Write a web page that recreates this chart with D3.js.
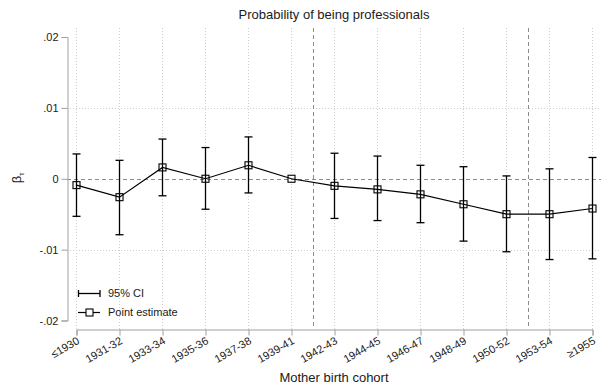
<!DOCTYPE html>
<html>
<head>
<meta charset="utf-8">
<script src="https://cdn.jsdelivr.net/npm/d3@7"></script>
<style>
  html, body { margin: 0; padding: 0; background: #fff; }
  svg { display: block; font-family: "Liberation Sans", Arial, sans-serif; }
</style>
</head>
<body>
<svg id="chart" width="604" height="388"></svg>
<script>
// Mother birth cohorts and the estimated coefficients with 95% confidence bounds
const cohorts = ["≤1930", "1931-32", "1933-34", "1935-36", "1937-38", "1939-41",
                 "1942-43", "1944-45", "1946-47", "1948-49", "1950-52", "1953-54", "≥1955"];
const estimate = [-0.0009, -0.0026, 0.0016, 0.0000, 0.0019, 0.0000,
                  -0.0010, -0.0015, -0.0022, -0.0036, -0.0050, -0.0050, -0.0042];
const ciLower  = [-0.0053, -0.0079, -0.0024, -0.0043, -0.0020, null,
                  -0.0056, -0.0059, -0.0062, -0.0088, -0.0103, -0.0114, -0.0113];
const ciUpper  = [0.0035, 0.0026, 0.0056, 0.0044, 0.0059, null,
                  0.0036, 0.0032, 0.0019, 0.0017, 0.0004, 0.0014, 0.0030];
const yTicks = [-0.02, -0.01, 0, 0.01, 0.02];
const yTickLabels = ["-.02", "-.01", "0", ".01", ".02"];
const yGridValues = [-0.01, 0.01];
// Policy cut-offs fall between these cohort positions
const cutoffs = [5.5, 10.5];

const svg = d3.select("#chart");

// Plot region
const plot = { left: 67, right: 601, top: 28, bottom: 329 };

const x = d3.scalePoint().domain(cohorts).range([76, 592]);
const xIdx = d3.scaleLinear().domain([0, cohorts.length - 1]).range([76, 592]);
const y = d3.scaleLinear().domain([-0.02, 0.02]).range([320.5, 37]);

// Dotted grid
const grid = svg.append("g").attr("stroke", "#cfcfcf").attr("stroke-width", 1)
  .attr("stroke-dasharray", "1,2");
grid.selectAll("line.v").data(cohorts).join("line")
  .attr("x1", d => x(d) + 0.5).attr("x2", d => x(d) + 0.5)
  .attr("y1", plot.top).attr("y2", plot.bottom);
grid.selectAll("line.h").data(yGridValues).join("line")
  .attr("x1", plot.left).attr("x2", plot.right)
  .attr("y1", d => Math.round(y(d)) + 0.5).attr("y2", d => Math.round(y(d)) + 0.5);

// Reference lines: zero and cohort cut-offs
const refs = svg.append("g").attr("stroke", "#8c8c8c").attr("stroke-width", 1)
  .attr("stroke-dasharray", "4,3");
refs.append("line")
  .attr("x1", plot.left).attr("x2", plot.right)
  .attr("y1", Math.round(y(0)) + 0.5).attr("y2", Math.round(y(0)) + 0.5);
refs.selectAll("line.c").data(cutoffs).join("line")
  .attr("x1", d => Math.round(xIdx(d)) + 0.5).attr("x2", d => Math.round(xIdx(d)) + 0.5)
  .attr("y1", plot.top).attr("y2", plot.bottom);

// Axes
const yAxis = d3.axisLeft(y).tickValues(yTicks).tickSizeOuter(0).tickSize(6).tickPadding(3)
  .tickFormat((d, i) => yTickLabels[i]);
const gy = svg.append("g").attr("transform", `translate(${plot.left + 0.5},0)`).call(yAxis);

const xAxis = d3.axisBottom(x).tickSizeOuter(0).tickSize(6).tickPadding(3);
const gx = svg.append("g").attr("transform", `translate(0.5,${plot.bottom + 0.5})`).call(xAxis);

[gy, gx].forEach(g => {
  g.select(".domain").attr("stroke", "#a0a0a0");
  g.selectAll(".tick line").attr("stroke", "#a0a0a0");
  g.selectAll(".tick text").attr("fill", "#1a1a1a").attr("font-size", 11)
    .attr("font-family", "Liberation Sans, Arial, sans-serif");
});
gx.selectAll(".tick text")
  .attr("text-anchor", "end")
  .attr("dy", "0.35em")
  .attr("transform", "translate(0,4) rotate(-30)")
  .attr("y", 6).attr("x", -2);

// Confidence intervals
const ciData = cohorts.map((c, i) => ({ c, lo: ciLower[i], hi: ciUpper[i] }))
  .filter(d => d.lo !== null);
const ci = svg.append("g").attr("stroke", "#000").attr("stroke-width", 1.3);
ci.selectAll("line.bar").data(ciData).join("line")
  .attr("x1", d => x(d.c) + 0.5).attr("x2", d => x(d.c) + 0.5)
  .attr("y1", d => y(d.hi)).attr("y2", d => y(d.lo));
ci.selectAll("line.top").data(ciData).join("line")
  .attr("x1", d => x(d.c) - 3.5).attr("x2", d => x(d.c) + 4.5)
  .attr("y1", d => y(d.hi)).attr("y2", d => y(d.hi));
ci.selectAll("line.bot").data(ciData).join("line")
  .attr("x1", d => x(d.c) - 3.5).attr("x2", d => x(d.c) + 4.5)
  .attr("y1", d => y(d.lo)).attr("y2", d => y(d.lo));

// Point estimates connected by a line
const pts = cohorts.map((c, i) => ({ c, v: estimate[i] }));
svg.append("path").datum(pts)
  .attr("fill", "none").attr("stroke", "#000").attr("stroke-width", 1.2)
  .attr("d", d3.line().x(d => x(d.c) + 0.5).y(d => y(d.v)));
svg.append("g").selectAll("rect").data(pts).join("rect")
  .attr("x", d => x(d.c) - 3).attr("y", d => y(d.v) - 3.5)
  .attr("width", 7).attr("height", 7)
  .attr("fill", "none").attr("stroke", "#000").attr("stroke-width", 1.1);

// Legend
const leg = svg.append("g").attr("font-size", 11).attr("fill", "#1a1a1a");
const l1 = 293, l2 = 312;
leg.append("line").attr("x1", 78).attr("x2", 100).attr("y1", l1 + 0.5).attr("y2", l1 + 0.5)
  .attr("stroke", "#000").attr("stroke-width", 1.3);
leg.append("line").attr("x1", 78.5).attr("x2", 78.5).attr("y1", l1 - 3).attr("y2", l1 + 4)
  .attr("stroke", "#000").attr("stroke-width", 1.3);
leg.append("line").attr("x1", 100).attr("x2", 100).attr("y1", l1 - 3).attr("y2", l1 + 4)
  .attr("stroke", "#000").attr("stroke-width", 1.3);
leg.append("text").attr("x", 108).attr("y", l1).attr("dy", "0.35em").text("95% CI");
leg.append("line").attr("x1", 78).attr("x2", 100).attr("y1", l2 + 0.5).attr("y2", l2 + 0.5)
  .attr("stroke", "#000").attr("stroke-width", 1.2);
leg.append("rect").attr("x", 86).attr("y", l2 - 3).attr("width", 7).attr("height", 7)
  .attr("fill", "#fff").attr("stroke", "#000").attr("stroke-width", 1.1);
leg.append("text").attr("x", 108).attr("y", l2).attr("dy", "0.35em").text("Point estimate");

// Titles
svg.append("text").attr("x", 334).attr("y", 19).attr("text-anchor", "middle")
  .attr("font-size", 13).attr("fill", "#1a1a1a").text("Probability of being professionals");
svg.append("text").attr("x", 334).attr("y", 382).attr("text-anchor", "middle")
  .attr("font-size", 13).attr("fill", "#1a1a1a").text("Mother birth cohort");
const yt = svg.append("text").attr("transform", "translate(21,178) rotate(-90)")
  .attr("text-anchor", "middle").attr("font-size", 13).attr("fill", "#1a1a1a");
yt.append("tspan").text("β");
yt.append("tspan").attr("font-size", 8).attr("dy", 3).text("τ");
</script>
</body>
</html>
